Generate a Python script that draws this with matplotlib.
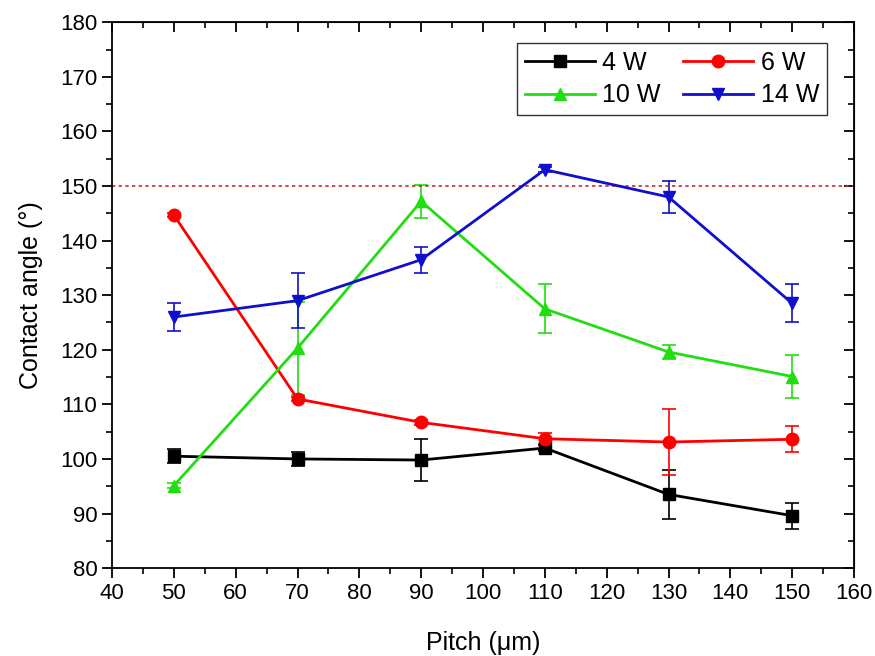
import matplotlib
matplotlib.use('Agg')
import matplotlib.pyplot as plt
from matplotlib.ticker import MultipleLocator
from matplotlib.lines import Line2D
import numpy as np

plt.rcParams['font.family'] = ['Liberation Sans', 'DejaVu Sans']

# Pitch (um)
pitch = [50, 70, 90, 110, 130, 150]

# contact angle + error per power
w4 = [100.5, 100.0, 99.8, 102.0, 93.5, 89.6]
w4_err = [1.3, 1.3, 3.8, 0.5, 4.5, 2.4]
w6 = [144.7, 111.0, 106.7, 103.7, 103.1, 103.6]
w6_err = [0.4, 0.4, 0.5, 1.0, 6.0, 2.4]
w10 = [95.1, 120.3, 147.2, 127.5, 119.6, 115.1]
w10_err = [0.4, 8.5, 3.0, 4.5, 1.2, 4.0]
w14 = [126.0, 129.0, 136.5, 153.0, 148.0, 128.5]
w14_err = [2.5, 5.0, 2.4, 0.5, 3.0, 3.5]

series = [
    (w4, w4_err, 'black', 's', '4 W'),
    (w6, w6_err, 'red', 'o', '6 W'),
    (w10, w10_err, '#22dd11', '^', '10 W'),
    (w14, w14_err, '#1010cc', 'v', '14 W'),
]

fig = plt.figure(figsize=(8.75, 6.56), dpi=100)
ax = fig.add_axes([0.128, 0.134, 0.848, 0.832])

handles = {}
for vals, err, col, mk, lab in series:
    ax.errorbar(pitch, vals, yerr=err, color=col, marker=mk, markersize=9,
                linewidth=2, elinewidth=1.2, capsize=5, capthick=1.2)
    # legend handle without the error bar
    handles[lab] = Line2D([], [], color=col, marker=mk, markersize=9,
                          linewidth=2)

ax.axhline(150, color='#cc2a2a', linestyle=(0, (2, 2)), linewidth=1.2)

ax.set_xlim(40, 160)
ax.set_ylim(80, 180)
ax.xaxis.set_major_locator(MultipleLocator(10))
ax.xaxis.set_minor_locator(MultipleLocator(5))
ax.yaxis.set_major_locator(MultipleLocator(10))
ax.yaxis.set_minor_locator(MultipleLocator(5))

ax.tick_params(axis='both', which='major', direction='out', length=7,
               width=1.3, labelsize=16)
ax.tick_params(axis='both', which='minor', direction='out', length=4,
               width=1.2)
# inward ticks on the top and right
axt = ax.secondary_xaxis('top')
axt.xaxis.set_major_locator(MultipleLocator(10))
axt.xaxis.set_minor_locator(MultipleLocator(5))
axt.tick_params(which='major', direction='in', length=7, width=1.3,
                labeltop=False)
axt.tick_params(which='minor', direction='in', length=4, width=1.2)
axr = ax.secondary_yaxis('right')
axr.yaxis.set_major_locator(MultipleLocator(10))
axr.yaxis.set_minor_locator(MultipleLocator(5))
axr.tick_params(which='major', direction='in', length=7, width=1.3,
                labelright=False)
axr.tick_params(which='minor', direction='in', length=4, width=1.2)

for sp in ax.spines.values():
    sp.set_linewidth(1.3)

ax.set_xlabel('Pitch (μm)', fontsize=18, labelpad=20)
ax.set_ylabel('Contact angle (°)', fontsize=18, labelpad=12)

# column-first fill -> order so rows read 4W,6W / 10W,14W
order = ['4 W', '10 W', '6 W', '14 W']
leg = ax.legend([handles[k] for k in order], order, ncol=2,
                loc='upper right', bbox_to_anchor=(0.963, 0.962),
                fontsize=18, frameon=True, fancybox=False, edgecolor='black',
                handlelength=2.8, columnspacing=0.9, borderpad=0.3,
                labelspacing=0.35, handletextpad=0.3, borderaxespad=0)
leg.get_frame().set_linewidth(1.0)

fig.savefig('out.png', dpi=100)
